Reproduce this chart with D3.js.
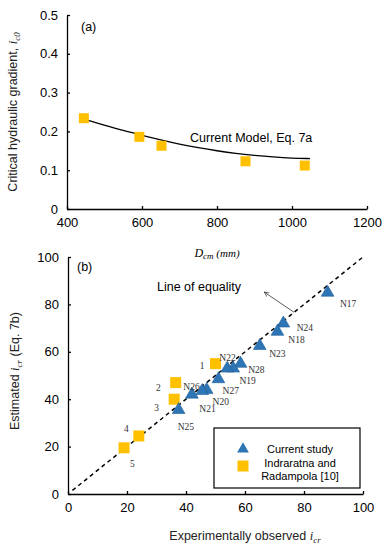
<!DOCTYPE html>
<html>
<head>
<meta charset="utf-8">
<script src="https://cdn.jsdelivr.net/npm/d3@7"></script>
<style>
  body { margin: 0; background: #fff; }
  svg { font-family: "Liberation Sans", Arial, sans-serif; }
  .axis path, .axis line { stroke: #000; stroke-width: 1.3; }
  .axis text { font-size: 13px; fill: #000; font-family: "Liberation Sans", Arial, sans-serif; }
  .lbl { font-family: "Liberation Serif", "Times New Roman", serif; font-size: 9.5px; fill: #333; }
</style>
</head>
<body>
<div id="chart"></div>
<script>
// panel (a): critical hydraulic gradient vs D_cm
var aDiam = [445, 593, 652, 876, 1034];
var aGrad = [0.234, 0.186, 0.163, 0.123, 0.112];
var curveDiam = [445, 500, 550, 600, 650, 700, 750, 800, 850, 900, 950, 1000, 1048];
var curveGrad = [0.232, 0.216, 0.202, 0.190, 0.178, 0.167, 0.158, 0.150, 0.143, 0.138, 0.134, 0.131, 0.130];
var aXTicks = [400, 600, 800, 1000, 1200];
var aYTicks = [0, 0.1, 0.2, 0.3, 0.4, 0.5];

// panel (b): estimated vs observed
var curNames = ["N17", "N24", "N18", "N23", "N28", "N19", "N22", "N27", "N20", "N20b", "N21", "N25"];
var curObs = [88, 73, 71, 65, 58.5, 56, 54, 51, 47, 45.5, 42, 37.5];
var curEst = [85, 72, 68.5, 62.5, 55, 53, 53, 48.5, 44, 43.5, 42, 35.5];
var indNames = ["1", "2", "3", "4", "5"];
var indObs = [50, 36.5, 36, 24, 19];
var indEst = [55, 47, 40, 24.5, 19.5];
// label anchors in data units of panel (b)
var labText = ["N17", "N24", "N18", "N23", "N22", "N28", "N19", "N26", "N27", "N20", "N21", "N25", "1", "2", "3", "4", "5"];
var labX = [92.2, 77.5, 74.7, 68.2, 51.3, 61.1, 58.1, 39.1, 52.4, 49.0, 44.5, 37.2, 44.7, 29.8, 29.2, 19.0, 21.0];
var labY = [80.3, 69.9, 64.9, 59.1, 57.4, 52.4, 47.7, 45.2, 43.5, 38.9, 35.9, 28.3, 54.1, 44.9, 36.4, 27.5, 12.7];
var bTicks = [0, 20, 40, 60, 80, 100];

var blue = "#2e75b6", yellow = "#ffc000";

var svg = d3.select("#chart").append("svg")
    .attr("width", 389)
    .attr("height", 550);

svg.append("defs").append("marker")
    .attr("id", "arr")
    .attr("viewBox", "0 0 10 10")
    .attr("refX", 9).attr("refY", 5)
    .attr("markerWidth", 7).attr("markerHeight", 7)
    .attr("orient", "auto-start-reverse")
    .append("path")
    .attr("d", "M0,1 L9,5 L0,9")
    .attr("fill", "none")
    .attr("stroke", "#333")
    .attr("stroke-width", 1.2);

// ---------- panel (a) ----------
var xa = d3.scaleLinear().domain([400, 1200]).range([67, 367]);
var ya = d3.scaleLinear().domain([0, 0.5]).range([209, 15]);

svg.append("g")
    .attr("class", "axis")
    .attr("transform", "translate(0,209)")
    .call(d3.axisBottom(xa).tickValues(aXTicks).tickSize(-3).tickSizeOuter(0).tickPadding(9)
        .tickFormat(d => String(d)));

svg.append("g")
    .attr("class", "axis")
    .attr("transform", "translate(67,0)")
    .call(d3.axisLeft(ya).tickValues(aYTicks).tickSize(-3).tickSizeOuter(0).tickPadding(9)
        .tickFormat(d => d === 0 ? "0" : d3.format(".1f")(d)));

var line = d3.line().x(d => xa(d[0])).y(d => ya(d[1])).curve(d3.curveBasis);
svg.append("path")
    .datum(curveDiam.map((d, i) => [d, curveGrad[i]]))
    .attr("d", line)
    .attr("fill", "none")
    .attr("stroke", "#000")
    .attr("stroke-width", 1.3);

svg.selectAll(".sqa")
    .data(aDiam)
    .enter().append("rect")
    .attr("x", (d, i) => xa(d) - 5)
    .attr("y", (d, i) => ya(aGrad[i]) - 5)
    .attr("width", 10).attr("height", 10)
    .attr("fill", yellow);

svg.append("text")
    .attr("x", 190).attr("y", 142)
    .style("font-size", "12.5px")
    .text("Current Model, Eq. 7a");

svg.append("text")
    .attr("x", 81).attr("y", 31)
    .style("font-size", "12.5px")
    .text("(a)");

// y label (a)
var yla = svg.append("text")
    .attr("transform", "translate(17,112) rotate(-90)")
    .attr("text-anchor", "middle")
    .style("font-size", "12.5px")
    .style("fill", "#222");
yla.append("tspan").text("Critical hydraulic gradient, ");
yla.append("tspan").text("i").style("font-style", "italic").style("font-family", "Liberation Serif, serif");
yla.append("tspan").text("c0").attr("dy", 3).style("font-size", "9px")
    .style("font-style", "italic").style("font-family", "Liberation Serif, serif");

// x label (a)
var xla = svg.append("text")
    .attr("x", 217).attr("y", 257)
    .attr("text-anchor", "middle")
    .style("font-family", "Liberation Serif, serif")
    .style("font-style", "italic")
    .style("font-size", "12px");
xla.append("tspan").text("D");
xla.append("tspan").text("cm").attr("dy", 2).style("font-size", "9px");
xla.append("tspan").text(" (mm)").attr("dy", -2).style("font-size", "11px");

// ---------- panel (b) ----------
var xb = d3.scaleLinear().domain([0, 100]).range([68, 363]);
var yb = d3.scaleLinear().domain([0, 100]).range([494, 257]);

svg.append("g")
    .attr("class", "axis")
    .attr("transform", "translate(0,494)")
    .call(d3.axisBottom(xb).tickValues(bTicks).tickSize(-3).tickSizeOuter(0).tickPadding(9));

svg.append("g")
    .attr("class", "axis")
    .attr("transform", "translate(68,0)")
    .call(d3.axisLeft(yb).tickValues(bTicks).tickSize(-3).tickSizeOuter(0).tickPadding(9));

// line of equality
svg.append("line")
    .attr("x1", xb(1.5)).attr("y1", yb(1.5))
    .attr("x2", xb(100)).attr("y2", yb(100))
    .attr("stroke", "#000")
    .attr("stroke-width", 1.5)
    .attr("stroke-dasharray", "4,3.5");

svg.append("line")
    .attr("x1", xb(76.6)).attr("y1", yb(76.7))
    .attr("x2", xb(66.5)).attr("y2", yb(85.2))
    .attr("stroke", "#333")
    .attr("stroke-width", 0.8)
    .attr("marker-end", "url(#arr)");

svg.append("text")
    .attr("x", 157).attr("y", 291)
    .style("font-size", "12.5px")
    .text("Line of equality");

svg.append("text")
    .attr("x", 77).attr("y", 271)
    .style("font-size", "12.5px")
    .text("(b)");

var tri = d3.symbol().type(d3.symbolTriangle).size(70);

svg.selectAll(".sqb")
    .data(indObs)
    .enter().append("rect")
    .attr("x", d => xb(d) - 5.5)
    .attr("y", (d, i) => yb(indEst[i]) - 5.5)
    .attr("width", 11).attr("height", 11)
    .attr("fill", yellow);

svg.selectAll(".tri")
    .data(curObs)
    .enter().append("path")
    .attr("d", tri)
    .attr("transform", (d, i) => "translate(" + xb(d) + "," + yb(curEst[i]) + ")")
    .attr("fill", blue)
    .attr("stroke", "#1f5d96")
    .attr("stroke-width", 0.6);

svg.selectAll(".lbl")
    .data(labText)
    .enter().append("text")
    .attr("class", "lbl")
    .attr("x", (d, i) => xb(labX[i]))
    .attr("y", (d, i) => yb(labY[i]) + 3)
    .text(d => d);

// legend
var leg = svg.append("g");
leg.append("rect")
    .attr("x", 214).attr("y", 428)
    .attr("width", 146).attr("height", 60)
    .attr("fill", "#fff")
    .attr("stroke", "#000")
    .attr("stroke-width", 1.2);
leg.append("path")
    .attr("d", d3.symbol().type(d3.symbolTriangle).size(60))
    .attr("transform", "translate(243,449)")
    .attr("fill", blue);
leg.append("rect")
    .attr("x", 237.5).attr("y", 460.5)
    .attr("width", 11).attr("height", 11)
    .attr("fill", yellow);
leg.append("text")
    .attr("x", 300).attr("y", 453)
    .attr("text-anchor", "middle")
    .style("font-size", "11px")
    .text("Current study");
leg.append("text")
    .attr("x", 300).attr("y", 467)
    .attr("text-anchor", "middle")
    .style("font-size", "11px")
    .text("Indraratna and");
leg.append("text")
    .attr("x", 300).attr("y", 480)
    .attr("text-anchor", "middle")
    .style("font-size", "11px")
    .text("Radampola [10]");

// y label (b)
var ylb = svg.append("text")
    .attr("transform", "translate(19,371) rotate(-90)")
    .attr("text-anchor", "middle")
    .style("font-size", "12.5px")
    .style("fill", "#222");
ylb.append("tspan").text("Estimated ");
ylb.append("tspan").text("i").style("font-style", "italic").style("font-family", "Liberation Serif, serif");
ylb.append("tspan").text("cr").attr("dy", 3).style("font-size", "9px")
    .style("font-style", "italic").style("font-family", "Liberation Serif, serif");
ylb.append("tspan").text(" (Eq. 7b)").attr("dy", -3);

// x label (b)
var xlb = svg.append("text")
    .attr("x", 245).attr("y", 540)
    .attr("text-anchor", "middle")
    .style("font-size", "12.5px")
    .style("fill", "#222");
xlb.append("tspan").text("Experimentally observed ");
xlb.append("tspan").text("i").style("font-style", "italic").style("font-family", "Liberation Serif, serif");
xlb.append("tspan").text("cr").attr("dy", 3).style("font-size", "9px")
    .style("font-style", "italic").style("font-family", "Liberation Serif, serif");
</script>
</body>
</html>
